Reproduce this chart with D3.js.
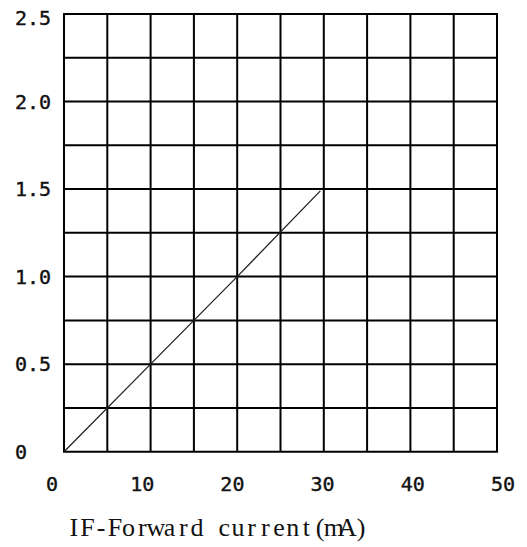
<!DOCTYPE html>
<html>
<head>
<meta charset="utf-8">
<script src="https://cdn.jsdelivr.net/npm/d3@7"></script>
<style>
  body { margin: 0; background: #fff; }
  svg { display: block; }
  .tick-label { font-family: 'DejaVu Sans Mono', monospace; font-size: 20px; fill: #111; stroke: #111; stroke-width: 0.4px; }
  .title { font-family: 'Liberation Serif', serif; font-size: 26px; fill: #111; }
</style>
</head>
<body>
<svg width="527" height="547"></svg>
<script>
const xTicks = [0, 10, 20, 30, 40, 50];
const yTicks = [0, 0.5, 1.0, 1.5, 2.0, 2.5];
const yTickText = ['0', '0.5', '1.0', '1.5', '2.0', '2.5'];
const xGrid = [0, 5, 10, 15, 20, 25, 30, 35, 40, 45, 50];
const yGrid = [0, 0.25, 0.5, 0.75, 1.0, 1.25, 1.5, 1.75, 2.0, 2.25, 2.5];

// forward current (mA) vs value
const current = [0, 10, 20, 29.6];
const values = [0, 0.5, 1.0, 1.49];

const xTitle = 'IF-Forward current(mA)';

const svg = d3.select('svg');

const plotLeft = 64, plotRight = 497, plotTop = 14, plotBottom = 451.7;

const xScale = d3.scaleLinear().domain([0, 50]).range([plotLeft, plotRight]);
const yScale = d3.scaleLinear().domain([0, 2.5]).range([plotBottom, plotTop]);
// tick labels sit a bit wider than the grid
const xLabelScale = d3.scaleLinear().domain([0, 50]).range([52, 503]);

svg.append('g')
  .selectAll('line')
  .data(xGrid)
  .enter()
  .append('line')
  .attr('x1', (d) => xScale(d))
  .attr('x2', (d) => xScale(d))
  .attr('y1', plotTop)
  .attr('y2', plotBottom)
  .attr('stroke', '#000')
  .attr('stroke-width', 2);

svg.append('g')
  .selectAll('line')
  .data(yGrid)
  .enter()
  .append('line')
  .attr('x1', plotLeft - 1)
  .attr('x2', plotRight + 1)
  .attr('y1', (d) => yScale(d))
  .attr('y2', (d) => yScale(d))
  .attr('stroke', '#000')
  .attr('stroke-width', 2);

const line = d3.line()
  .x((d, i) => xScale(current[i]))
  .y((d) => yScale(d));

svg.append('path')
  .datum(values)
  .attr('d', line)
  .attr('fill', 'none')
  .attr('stroke', '#222')
  .attr('stroke-width', 1.3);

svg.append('g')
  .selectAll('text')
  .data(xTicks)
  .enter()
  .append('text')
  .attr('class', 'tick-label')
  .attr('x', (d) => xLabelScale(d))
  .attr('y', 491)
  .attr('text-anchor', 'middle')
  .text((d) => d);

svg.append('g')
  .selectAll('text')
  .data(yTicks)
  .enter()
  .append('text')
  .attr('class', 'tick-label')
  .attr('x', 15)
  .attr('y', (d) => yScale(d) + 7 + (d === 2.5 ? 4 : 0))
  .attr('text-anchor', 'start')
  .text((d, i) => yTickText[i]);

// monospaced placement, one cell per character like the original font
const pitch = 301 / xTitle.length;
svg.append('text')
  .attr('class', 'title')
  .attr('x', xTitle.split('').map((c, i) => (67 + pitch * (i + 0.5)).toFixed(1)).join(' '))
  .attr('y', 536)
  .attr('text-anchor', 'middle')
  .text(xTitle);
</script>
</body>
</html>
